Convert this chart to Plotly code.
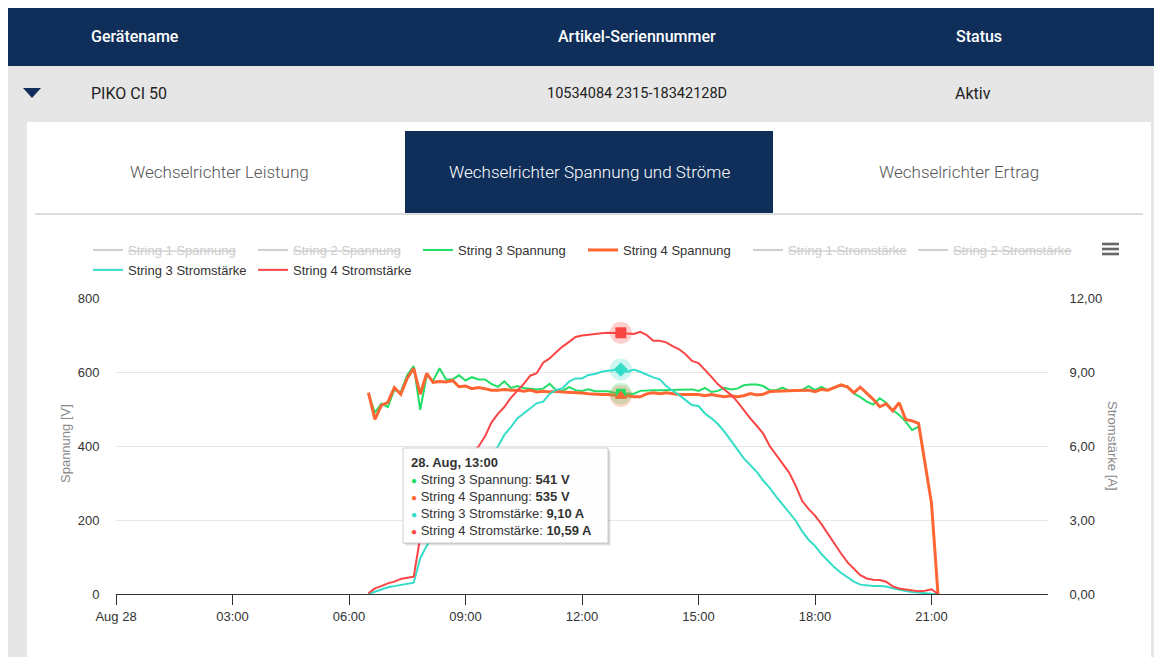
import plotly.graph_objects as go
import pandas as pd

# ---------------- data ----------------
times = pd.date_range("2023-08-28 06:30", "2023-08-28 21:10", freq="10min")

s3_voltage = [
    543, 490, 515, 505, 552, 546,
    592, 616, 498, 590, 577, 610,
    580, 580, 591, 577, 586, 580,
    580, 568, 560, 575, 557, 562,
    557, 555, 553, 555, 568, 551,
    549, 559, 551, 549, 553, 548,
    549, 548, 544, 541, 542, 541,
    549, 551, 551, 551, 551, 553,
    553, 553, 553, 549, 557, 546,
    549, 557, 553, 555, 564, 566,
    566, 562, 551, 551, 558, 549,
    551, 551, 562, 551, 560, 551,
    559, 563, 560, 542, 532, 520,
    512, 529, 517, 497, 484, 466,
    443, 452, None, None, None,
]
s4_voltage = [
    544, 472, 510, 518, 558, 540,
    583, 610, 540, 596, 572, 574,
    573, 577, 560, 562, 555, 558,
    555, 551, 551, 553, 551, 551,
    548, 551, 546, 548, 546, 548,
    546, 545, 546, 543, 541, 539,
    539, 539, 536, 535, 536, 533,
    533, 541, 544, 541, 544, 541,
    539, 539, 540, 539, 536, 539,
    536, 533, 536, 533, 536, 542,
    538, 540, 547, 547, 549, 549,
    550, 550, 551, 547, 553, 551,
    559, 565, 560, 544, 559, 542,
    526, 506, 514, 495, 517, 472,
    468, 461, 350, 245, 0,
]
s3_current = [
    0.00, 0.10, 0.19, 0.27, 0.32, 0.37,
    0.41, 0.46, 1.45, 1.95, 2.35, 2.75,
    3.15, 3.55, 3.95, 4.35, 4.75, 5.10,
    5.45, 5.72, 5.97, 6.45, 6.76, 7.12,
    7.32, 7.53, 7.73, 7.80, 8.11, 8.27,
    8.34, 8.61, 8.74, 8.74, 8.88, 8.92,
    9.01, 9.05, 9.08, 9.10, 9.01, 9.10,
    9.01, 8.88, 8.78, 8.70, 8.43, 8.24,
    8.07, 7.86, 7.66, 7.62, 7.32, 7.12,
    6.89, 6.58, 6.24, 5.86, 5.50, 5.23,
    4.95, 4.60, 4.30, 3.95, 3.62, 3.30,
    2.98, 2.55, 2.20, 1.95, 1.62, 1.35,
    1.08, 0.86, 0.68, 0.50, 0.38, 0.34,
    0.32, 0.32, 0.30, 0.23, 0.16, 0.12,
    0.08, 0.05, 0.03, 0.01, 0.00,
]
s4_current = [
    0.03, 0.23, 0.32, 0.43, 0.50, 0.61,
    0.66, 0.70, 2.30, 3.00, 3.50, 3.95,
    4.40, 4.78, 5.12, 5.42, 5.70, 5.97,
    6.38, 6.95, 7.30, 7.58, 7.95, 8.22,
    8.52, 8.85, 8.95, 9.38, 9.55, 9.80,
    10.03, 10.22, 10.42, 10.48, 10.52, 10.54,
    10.57, 10.59, 10.59, 10.59, 10.56, 10.54,
    10.63, 10.50, 10.27, 10.27, 10.20, 10.05,
    9.92, 9.72, 9.45, 9.36, 9.10, 8.80,
    8.50, 8.28, 8.08, 7.80, 7.45, 7.12,
    6.82, 6.50, 6.00, 5.64, 5.30, 4.92,
    4.40, 3.78, 3.45, 3.18, 2.83, 2.43,
    2.03, 1.65, 1.29, 1.02, 0.76, 0.63,
    0.58, 0.57, 0.50, 0.31, 0.22, 0.18,
    0.15, 0.11, 0.13, 0.19, 0.00,
]

series_names = ["String 1 Spannung", "String 2 Spannung", "String 3 Spannung", "String 4 Spannung",
                "String 1 Stromstärke", "String 2 Stromstärke", "String 3 Stromstärke", "String 4 Stromstärke"]

x_tickvals = ["2023-08-28 00:00", "2023-08-28 03:00", "2023-08-28 06:00", "2023-08-28 09:00",
              "2023-08-28 12:00", "2023-08-28 15:00", "2023-08-28 18:00", "2023-08-28 21:00"]
x_ticktext = ["Aug 28", "03:00", "06:00", "09:00", "12:00", "15:00", "18:00", "21:00"]
v_ticks = [0, 200, 400, 600, 800]
a_tickvals = [0, 3, 6, 9, 12]
a_ticktext = ["0,00", "3,00", "6,00", "9,00", "12,00"]

header_cols = ["Gerätename", "Artikel-Seriennummer", "Status"]
device_row = ["PIKO CI 50", "10534084 2315-18342128D", "Aktiv"]
tabs = ["Wechselrichter Leistung", "Wechselrichter Spannung und Ströme", "Wechselrichter Ertrag"]

hover_index = 39  # 13:00

# ---------------- styling ----------------
C_GREEN = "#22dd66"
C_ORANGE = "#ff6633"
C_CYAN = "#33ddc8"
C_RED = "#fa4545"
C_HIDDEN = "#a0a0a0"
NAVY = "#0f2f5a"
FONT = "Liberation Sans, Arial, sans-serif"
UI_FONT = "Roboto, sans-serif"

OFF = 8                      # page body margin of the html page
W, H = 1162 - OFF, 657 - OFF
L, R, T, B = 116 - OFF, 1048 - OFF, 298 - OFF, 594 - OFF


def px(x):   # page pixel -> paper
    return (x - OFF - L) / (R - L)


def py(y):
    return (B - (y - OFF)) / (B - T)


fig = go.Figure()

hidden_style = dict(mode="lines", line=dict(color=C_HIDDEN, width=2), visible="legendonly")


def hidden_name(n):
    return "<span style='color:#9a9a9a'><s>" + n + "</s></span>"


fig.add_trace(go.Scatter(x=[times[0]], y=[None], name=hidden_name(series_names[0]), **hidden_style))
fig.add_trace(go.Scatter(x=[times[0]], y=[None], name=hidden_name(series_names[1]), **hidden_style))
fig.add_trace(go.Scatter(x=times, y=s3_voltage, name=series_names[2], mode="lines",
                         line=dict(color=C_GREEN, width=2)))
fig.add_trace(go.Scatter(x=times, y=s4_voltage, name=series_names[3], mode="lines",
                         line=dict(color=C_ORANGE, width=3)))
fig.add_trace(go.Scatter(x=[times[0]], y=[None], name=hidden_name(series_names[4]), yaxis="y2", **hidden_style))
fig.add_trace(go.Scatter(x=[times[0]], y=[None], name=hidden_name(series_names[5]), yaxis="y2", **hidden_style))
fig.add_trace(go.Scatter(x=times, y=s3_current, name=series_names[6], mode="lines", yaxis="y2",
                         line=dict(color=C_CYAN, width=2)))
fig.add_trace(go.Scatter(x=times, y=s4_current, name=series_names[7], mode="lines", yaxis="y2",
                         line=dict(color=C_RED, width=2)))

# hover state markers (halo + symbol)
hx = [times[hover_index]]
hover_pts = [
    (s3_voltage[hover_index], C_GREEN, "square", "y", 10),
    (s4_voltage[hover_index], C_ORANGE, "triangle-up", "y", 11),
    (s3_current[hover_index], C_CYAN, "diamond", "y2", 11),
    (s4_current[hover_index], C_RED, "square", "y2", 11),
]
for yv, col, sym, ax, sz in hover_pts:
    fig.add_trace(go.Scatter(x=hx, y=[yv], yaxis=ax, mode="markers", showlegend=False, hoverinfo="skip",
                             marker=dict(size=22, color=col, opacity=0.25, line=dict(width=0))))
for yv, col, sym, ax, sz in hover_pts:
    fig.add_trace(go.Scatter(x=hx, y=[yv], yaxis=ax, mode="markers", showlegend=False, hoverinfo="skip",
                             marker=dict(size=sz, color=col, symbol=sym, line=dict(width=0))))

# ---------------- page shapes ----------------
shapes = []


def rect(x0, y0, x1, y1, fill, layer="below", line=None):
    shapes.append(dict(type="rect", xref="paper", yref="paper", x0=px(x0), x1=px(x1), y0=py(y1), y1=py(y0),
                       fillcolor=fill, line=line or dict(width=0), layer=layer))


rect(8, 66, 1170, 670, "#e6e6e6")
rect(8, 7, 1170, 66, NAVY)
rect(27, 122, 1151, 670, "white")
rect(405, 131, 773, 214, NAVY)
shapes.append(dict(type="line", xref="paper", yref="paper", x0=px(35), x1=px(1143), y0=py(214), y1=py(214),
                   line=dict(color="#dcdcdc", width=2), layer="below"))
# expand triangle
shapes.append(dict(type="path", xref="paper", yref="paper", layer="below",
                   path=f"M {px(23)} {py(88)} L {px(41)} {py(88)} L {px(32)} {py(98)} Z",
                   fillcolor=NAVY, line=dict(width=0)))
# hamburger icon
for yy in (244, 249, 254):
    shapes.append(dict(type="line", xref="paper", yref="paper", x0=px(1102), x1=px(1119), y0=py(yy), y1=py(yy),
                       line=dict(color="#666666", width=2.6), layer="above"))

# tooltip box with shadow
for off, alpha in ((3, 0.05), (2, 0.08), (1, 0.1)):
    rect(403 + off, 448 + off, 608 + off, 543 + off, f"rgba(0,0,0,{alpha})", layer="above")
rect(403, 448, 608, 543, "rgba(255,255,255,0.97)", layer="above", line=dict(color="#cfcfcf", width=1))

# ---------------- annotations ----------------
ann = []


def text(x, y, s, size=16, color="#222", anchor="left", family=UI_FONT, weight=None, angle=0):
    f = dict(family=family, size=size, color=color)
    if weight:
        f["weight"] = weight
    ann.append(dict(x=px(x), y=py(y), xref="paper", yref="paper", text=s, showarrow=False,
                    xanchor=anchor, yanchor="middle", font=f, textangle=angle))


text(89, 36, header_cols[0], color="white", weight=500)
text(637, 36, header_cols[1], color="white", anchor="center", weight=500)
text(979, 36, header_cols[2], color="white", anchor="center", weight=500)
text(89, 93, device_row[0], color="#222", weight=400)
text(637, 93, device_row[1], color="#222", anchor="center", weight=400, size=14.5)
text(973, 93, device_row[2], color="#222", anchor="center", weight=400)
text(219, 172, tabs[0], color="#555", anchor="center", weight=300, size=17)
text(589, 172, tabs[1], color="white", anchor="center", weight=300, size=17)
text(959, 172, tabs[2], color="#555", anchor="center", weight=300, size=17)

text(65, 444, "Spannung [V]", size=13, color="#888", anchor="center", family=FONT, angle=-90)
text(1113, 446, "Stromstärke [A]", size=13, color="#888", anchor="center", family=FONT, angle=90)


def de(v, d):
    return f"{v:.{d}f}".replace(".", ",")


t = times[hover_index]
dot = "<span style='font-size:10px;color:{c}'>●</span>"
tip = (f"<b>{t.day}. {t.strftime('%b')}, {t.strftime('%H:%M')}</b><br>"
       f"{dot.format(c=C_GREEN)} {series_names[2]}: <b>{de(s3_voltage[hover_index], 0)} V</b><br>"
       f"{dot.format(c=C_ORANGE)} {series_names[3]}: <b>{de(s4_voltage[hover_index], 0)} V</b><br>"
       f"{dot.format(c=C_CYAN)} {series_names[6]}: <b>{de(s3_current[hover_index], 2)} A</b><br>"
       f"{dot.format(c=C_RED)} {series_names[7]}: <b>{de(s4_current[hover_index], 2)} A</b>")
ann.append(dict(x=px(409), y=py(496), xref="paper", yref="paper", text=tip, showarrow=False,
                xanchor="left", yanchor="middle", align="left",
                font=dict(family=FONT, size=13, color="#333")))

fig.update_layout(
    width=W, height=H,
    margin=dict(l=L, r=W - R, t=T, b=H - B, pad=0),
    paper_bgcolor="white", plot_bgcolor="rgba(0,0,0,0)",
    font=dict(family=FONT, size=13, color="#333"),
    showlegend=True,
    legend=dict(orientation="h", x=px(88), y=py(235), xanchor="left", yanchor="top",
                entrywidth=120, entrywidthmode="pixels", bgcolor="rgba(0,0,0,0)",
                font=dict(family=FONT, size=13, color="#333"), tracegroupgap=0,
                itemclick=False, itemdoubleclick=False),
    xaxis=dict(type="date", range=["2023-08-28 00:00", "2023-08-29 00:00"],
               tickvals=x_tickvals, ticktext=x_ticktext, ticks="outside", ticklen=10,
               tickcolor="#333", tickwidth=1, showline=True, linecolor="#333", linewidth=1,
               showgrid=False, zeroline=False, tickfont=dict(size=13, color="#333")),
    yaxis=dict(range=[0, 800], tickvals=v_ticks, showgrid=True, gridcolor="#e6e6e6", gridwidth=1,
               zeroline=False, showline=False, ticks="outside", ticklen=13, tickcolor="rgba(0,0,0,0)",
               tickfont=dict(size=13, color="#333")),
    yaxis2=dict(range=[0, 12], overlaying="y", side="right", tickvals=a_tickvals, ticktext=a_ticktext,
                showgrid=False, zeroline=False, showline=False, ticks="outside", ticklen=18,
                tickcolor="rgba(0,0,0,0)", tickfont=dict(size=13, color="#333")),
    shapes=shapes,
    annotations=ann,
    hovermode=False,
)

fig.write_html("out.html")
